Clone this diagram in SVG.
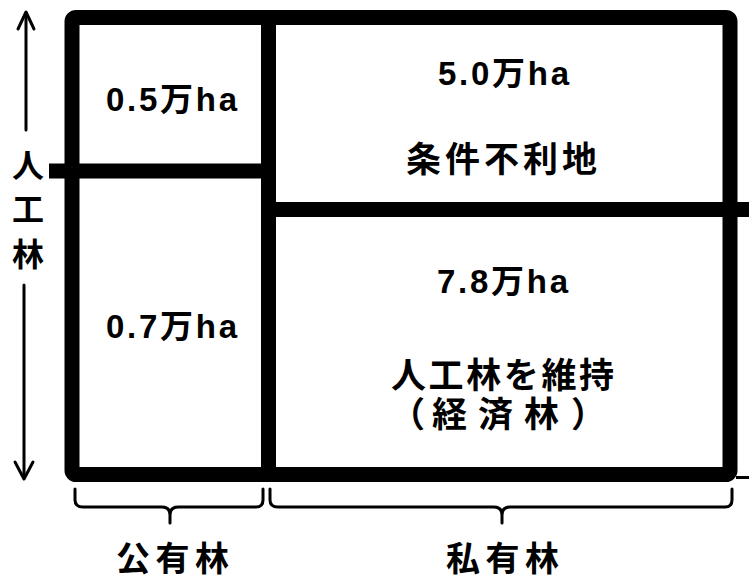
<svg xmlns="http://www.w3.org/2000/svg" width="749" height="579" viewBox="0 0 749 579">
<style>
.bar{fill:none;stroke:#000;stroke-width:15;}
.thin{fill:none;stroke:#000;stroke-width:3;stroke-linecap:round;stroke-linejoin:round;}
.num{font-family:"Liberation Sans","Noto Sans CJK JP",sans-serif;font-weight:bold;font-size:33px;fill:#000;}
.jp{font-family:"Noto Sans CJK JP",sans-serif;font-weight:bold;font-size:35px;fill:#000;}
.foot{font-family:"Noto Sans CJK JP",sans-serif;font-weight:bold;font-size:34px;fill:#000;}
.side{font-family:"Noto Sans CJK JP",sans-serif;font-weight:bold;font-size:32px;fill:#000;text-anchor:middle;}
</style>
<rect width="749" height="579" fill="#fff"/>
<g id="frame">
<rect class="bar" x="72" y="17.5" width="658" height="457" rx="4"/>
<line class="bar" x1="268.5" y1="17" x2="268.5" y2="475" stroke-width="13"/>
<line class="bar" x1="49" y1="171" x2="272" y2="171" stroke-width="14"/>
<line class="bar" x1="275" y1="209.5" x2="749" y2="209.5"/>
<line x1="736" y1="477.5" x2="749" y2="477.5" stroke="#000" stroke-width="3"/>
</g>
<g id="cell-public-upper">
<text class="num" x="106" y="111" textLength="131" lengthAdjust="spacing">0.5万ha</text>
</g>
<g id="cell-public-lower">
<text class="num" x="106" y="338" textLength="131" lengthAdjust="spacing">0.7万ha</text>
</g>
<g id="cell-private-upper">
<text class="num" x="438" y="85" textLength="131" lengthAdjust="spacing">5.0万ha</text>
<text class="jp" x="406" y="172" textLength="191" lengthAdjust="spacing">条件不利地</text>
</g>
<g id="cell-private-lower">
<text class="num" x="437" y="293" textLength="131" lengthAdjust="spacing">7.8万ha</text>
<text class="jp" x="391" y="388" textLength="223" lengthAdjust="spacing">人工林を維持</text>
<text class="jp" x="390 432 478 524 571" y="427">（経済林）</text>
</g>
<g id="axis-plantation">
<text class="side" x="28" y="177">人</text>
<text class="side" x="28" y="221">工</text>
<text class="side" x="28" y="266">林</text>
</g>
<g id="label-public">
<text class="foot" x="116" y="571" textLength="113" lengthAdjust="spacing">公有林</text>
</g>
<g id="label-private">
<text class="foot" x="446" y="571" textLength="113" lengthAdjust="spacing">私有林</text>
</g>
<g id="connectors">
<line class="thin" x1="26" y1="13" x2="26" y2="130"/>
<polyline class="thin" points="18,29 26,12 34,29"/>
<line class="thin" x1="24" y1="285" x2="24" y2="478"/>
<polyline class="thin" points="15,462 24,479 33,462"/>
<path class="thin" d="M75,489 V500 Q75,507 83,507 H162 Q170,507 170,515 V523 M170,515 Q170,507 178,507 H256 Q263,507 263,500 V489"/>
<path class="thin" d="M270,489 V500 Q270,507 278,507 H494 Q502,507 502,515 V523 M502,515 Q502,507 510,507 H725 Q732,507 732,500 V489"/>
</g>
</svg>
